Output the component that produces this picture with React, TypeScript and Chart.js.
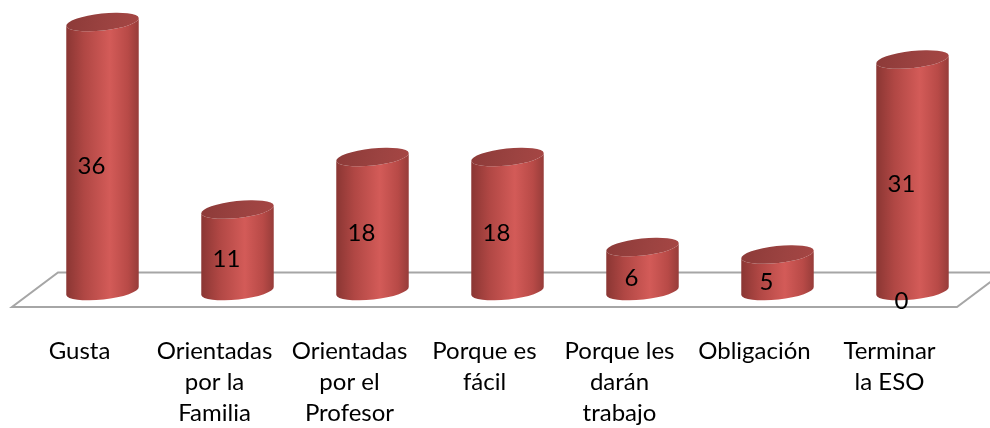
import React, { useEffect, useRef } from "react";
import { Chart, registerables } from "chart.js";

Chart.register(...registerables);

const categories: string[][] = [
  ["Gusta"],
  ["Orientadas", "por la", "Familia"],
  ["Orientadas", "por el", "Profesor"],
  ["Porque es", "fácil"],
  ["Porque les", "darán", "trabajo"],
  ["Obligación"],
  ["Terminar", "la ESO"],
];
const values: number[] = [36, 11, 18, 18, 6, 5, 31];
const zeroSeries: (number | null)[] = [null, null, null, null, null, null, 0];
const yMin = 0;
const yMax = 36;

const FONT = "Lato";

const cylinderPlugin = {
  id: "cylinders",
  beforeDatasetsDraw(chart: any) {
    const { ctx, chartArea } = chart;
    const base = chart.scales.y.getPixelForValue(0);
    const depthX = 46;
    const frontY = base + 15;
    const backY = base - 19.5;
    ctx.save();
    ctx.strokeStyle = "#a6a6a6";
    ctx.lineWidth = 2;
    ctx.beginPath();
    ctx.moveTo(chartArea.left, frontY);
    ctx.lineTo(chartArea.right, frontY);
    ctx.lineTo(chartArea.right + depthX, backY);
    ctx.lineTo(chartArea.left + depthX, backY);
    ctx.closePath();
    ctx.stroke();
    ctx.restore();
  },
  afterDatasetsDraw(chart: any) {
    const { ctx } = chart;
    const meta = chart.getDatasetMeta(0);
    const shift = 23;
    const ry = 8.5;
    const rot = -0.11;
    ctx.save();
    meta.data.forEach((bar: any) => {
      const cx = bar.x + shift;
      const rx = bar.width / 2;
      const yb = bar.base - 1;
      const yt = bar.y;
      const c = Math.cos(rot);
      const s = Math.sin(rot);
      const g = ctx.createLinearGradient(cx - rx, 0, cx + rx, 0);
      g.addColorStop(0, "#8a3633");
      g.addColorStop(0.25, "#b04744");
      g.addColorStop(0.6, "#d35b58");
      g.addColorStop(0.85, "#b84a47");
      g.addColorStop(1, "#963c39");
      ctx.beginPath();
      ctx.moveTo(cx - rx * c, yt - rx * s);
      ctx.lineTo(cx - rx * c, yb - rx * s);
      ctx.ellipse(cx, yb, rx, ry, rot, Math.PI, 0, true);
      ctx.lineTo(cx + rx * c, yt + rx * s);
      ctx.ellipse(cx, yt, rx, ry, rot, 0, Math.PI, false);
      ctx.closePath();
      ctx.fillStyle = g;
      ctx.fill();
      const tg = ctx.createLinearGradient(cx - rx, yt - ry, cx + rx, yt + ry);
      tg.addColorStop(0, "#8c3a38");
      tg.addColorStop(0.6, "#9c4341");
      tg.addColorStop(1, "#a64644");
      ctx.beginPath();
      ctx.ellipse(cx, yt, rx, ry, rot, 0, Math.PI * 2);
      ctx.fillStyle = tg;
      ctx.fill();
    });
    ctx.fillStyle = "#000000";
    ctx.font = `24px ${FONT}`;
    ctx.textAlign = "center";
    ctx.textBaseline = "middle";
    [0, 1].forEach((di) => {
      const m = chart.getDatasetMeta(di);
      const data = chart.data.datasets[di].data;
      m.data.forEach((bar: any, i: number) => {
        const v = data[i];
        if (v === null || v === undefined) return;
        ctx.fillText(String(v), bar.x + 12, (bar.base + bar.y) / 2 + 9);
      });
    });
    ctx.restore();
  },
};

export default function App() {
  const ref = useRef<HTMLCanvasElement | null>(null);
  useEffect(() => {
    if (!ref.current) return;
    const chart = new Chart(ref.current, {
      type: "bar",
      data: {
        labels: categories,
        datasets: [
          {
            label: "Serie 1",
            data: values,
            backgroundColor: "rgba(0,0,0,0)",
            borderWidth: 0,
            barPercentage: 0.54,
            categoryPercentage: 1,
            grouped: false,
          } as any,
          {
            label: "Serie 2",
            data: zeroSeries,
            backgroundColor: "rgba(0,0,0,0)",
            borderWidth: 0,
            barPercentage: 0.54,
            categoryPercentage: 1,
            grouped: false,
          } as any,
        ],
      },
      options: {
        responsive: false,
        animation: false,
        devicePixelRatio: 1,
        layout: { padding: { left: 12, right: 33, top: 22, bottom: 0 } },
        plugins: {
          legend: { display: false },
          tooltip: { enabled: false },
        },
        scales: {
          x: {
            grid: { display: false, drawTicks: false },
            border: { display: false },
            ticks: {
              padding: 44,
              color: "#000000",
              font: { family: FONT, size: 24, lineHeight: 1.29 },
              maxRotation: 0,
              autoSkip: false,
            },
            afterFit: (s: any) => {
              s.height = 136;
            },
          },
          y: { display: false, min: yMin, max: yMax },
        },
      } as any,
      plugins: [cylinderPlugin],
    });
    return () => chart.destroy();
  }, []);
  return (
    <div style={{ position: "absolute", left: 0, top: 0, width: 990, height: 428, background: "#ffffff" }}>
      <canvas ref={ref} width={990} height={428} />
    </div>
  );
}
